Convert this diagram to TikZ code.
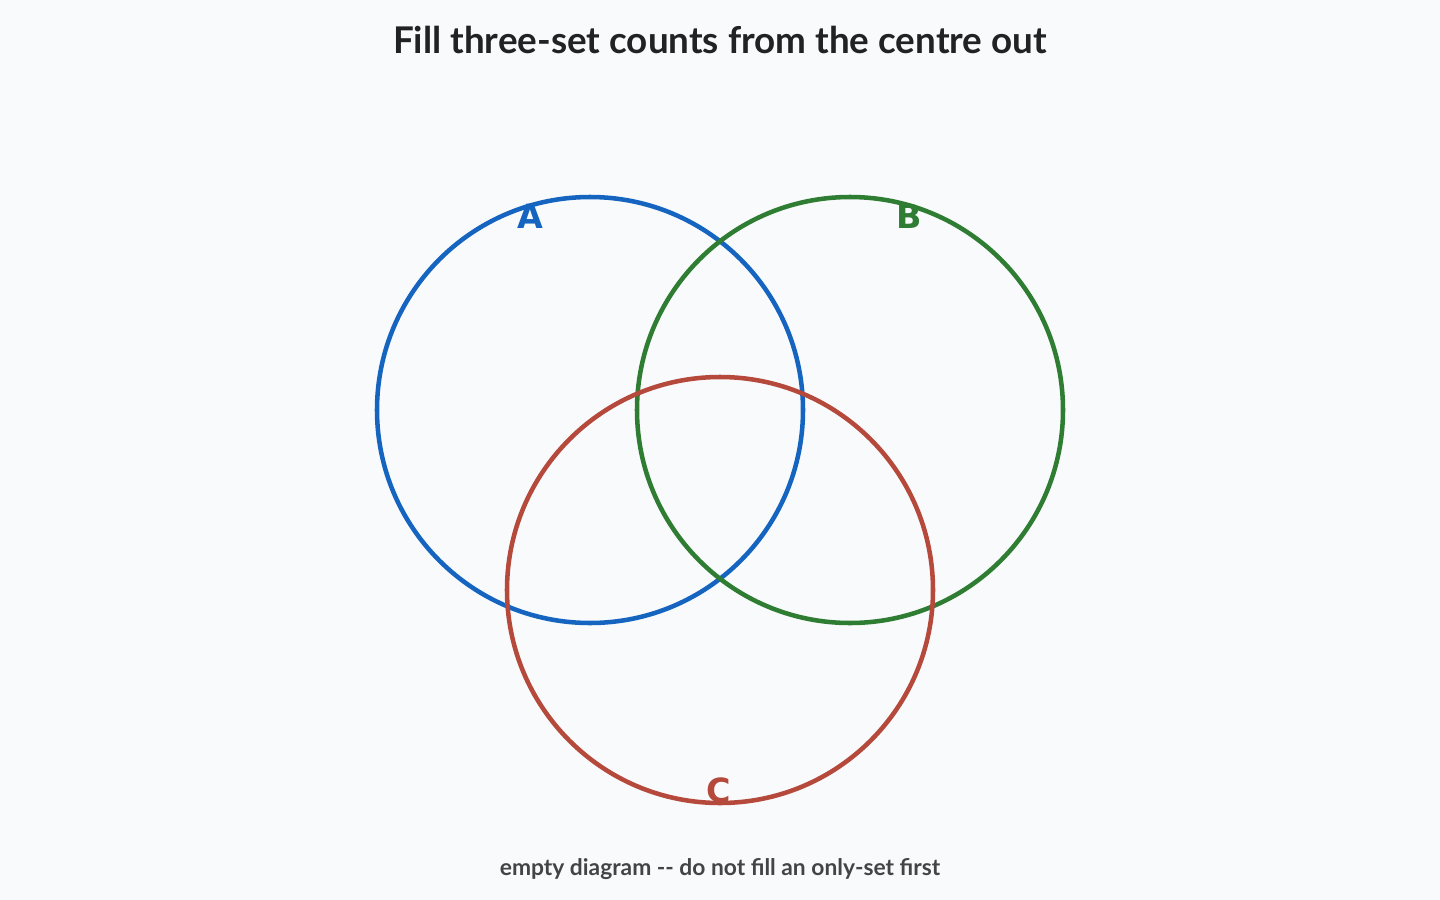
\documentclass[tikz,border=0pt]{standalone}
\usepackage{fontspec}
\setmainfont{Lato}
\newfontfamily\labelfont{DejaVu Sans}
\definecolor{bgpaper}{HTML}{F8FAFC}
\definecolor{setA}{HTML}{1565C0}
\definecolor{setB}{HTML}{2E7D32}
\definecolor{setC}{HTML}{B5493B}
\definecolor{inkdark}{HTML}{222222}
\definecolor{inkgrey}{HTML}{444444}
\tikzset{
  setring/.style={line width=3.4pt},
  setname/.style={font=\labelfont\bfseries\fontsize{25}{29}\selectfont},
}
\begin{document}
\begin{tikzpicture}[x=0.75pt,y=-0.75pt]
      \fill[bgpaper] (0,0) rectangle (1440,900);
      \useasboundingbox (0,0) rectangle (1440,900);

      \node[font=\bfseries\fontsize{27.6}{32}\selectfont,text=inkdark] (title) at (720,40) {Fill three-set counts from the centre out};

      \draw[setring,setA] (590,410) circle[radius=213];
      \draw[setring,setB] (850,410) circle[radius=213];
      \draw[setring,setC] (720,590) circle[radius=213];

      \node[setname,text=setA] (labA) at (530,216) {A};
      \node[setname,text=setB] (labB) at (909,216) {B};
      \node[setname,text=setC] (labC) at (719,790) {C};

      \node[font=\bfseries\fontsize{17.1}{20}\selectfont,text=inkgrey] (note) at (720,869) {empty diagram -{}- do not fill an only-set first};
    \end{tikzpicture}
\end{document}
